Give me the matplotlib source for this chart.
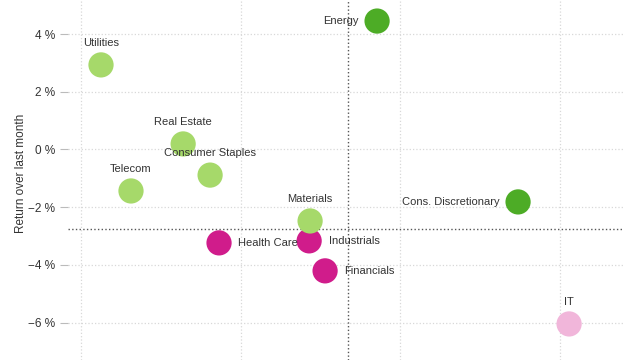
import numpy as np
import matplotlib.pyplot as plt
from matplotlib.ticker import FuncFormatter

plt.rcParams['font.family'] = ['Liberation Sans', 'DejaVu Sans']

# sector data: x is an unlabeled axis (arbitrary units), y is return over last month (%)
sectors = ['Energy', 'Utilities', 'Real Estate', 'Consumer Staples', 'Telecom',
           'Materials', 'Cons. Discretionary', 'Health Care', 'Industrials',
           'Financials', 'IT']
x_vals = [18.56, 1.25, 6.4, 8.09, 3.13, 14.36, 27.4, 8.65, 14.3, 15.3, 30.6]
y_vals = [4.45, 2.93, 0.19, -0.89, -1.44, -2.48, -1.82, -3.24, -3.17, -4.21, -6.05]
groups = ['dg', 'lg', 'lg', 'lg', 'lg', 'lg', 'dg', 'mg', 'mg', 'mg', 'pk']
label_side = ['left', 'top', 'top', 'top', 'top', 'top', 'left', 'right', 'right', 'right', 'top']
x_mean = 16.74
y_mean = -2.76

colors = {'dg': '#4dac26', 'lg': '#a6d96a', 'mg': '#d01c8b', 'pk': '#f1b6da'}

fig = plt.figure(figsize=(6.4, 3.6), dpi=100)
ax = fig.add_axes([68 / 640, 0, (623 - 68) / 640, 1])

ax.set_xlim(-0.82, 33.98)
ax.set_ylim(-7.3, 5.18)

ax.set_xticks([0, 10, 20, 30])
ax.set_yticks([-6, -4, -2, 0, 2, 4])
ax.yaxis.set_major_formatter(FuncFormatter(lambda v, p: ('%d %%' % v).replace('-', '\u2212')))
ax.tick_params(axis='x', length=0, labelbottom=False)
ax.tick_params(axis='y', length=6, color='#bbbbbb', labelsize=8.5, labelcolor='#333333', pad=3)
for s in ax.spines.values():
    s.set_visible(False)
ax.grid(True, color='#d8d8d8', linestyle=':', linewidth=0.9)
ax.set_axisbelow(True)

ax.axvline(x_mean, color='#555555', linestyle=':', linewidth=1, zorder=1)
ax.axhline(y_mean, color='#555555', linestyle=':', linewidth=1, zorder=1)

order = [0, 1, 2, 3, 4, 7, 8, 5, 6, 9, 10]
for i in order:
    ax.scatter(x_vals[i], y_vals[i], s=330, color=colors[groups[i]],
               edgecolors='none', zorder=3)

for i, name in enumerate(sectors):
    side = label_side[i]
    if side == 'top':
        off, ha, va = (0, 12.5), 'center', 'bottom'
    elif side == 'left':
        off, ha, va = (-13, 0), 'right', 'center'
    else:
        off, ha, va = (14, 0), 'left', 'center'
    ax.annotate(name, (x_vals[i], y_vals[i]), xytext=off, textcoords='offset points',
                ha=ha, va=va, fontsize=8, color='#333333', zorder=4)

fig.text(21 / 640, 1 - 173 / 360, 'Return over last month', rotation=90,
         ha='center', va='center', fontsize=8.5, color='#333333')

fig.savefig('out.png', dpi=100)
